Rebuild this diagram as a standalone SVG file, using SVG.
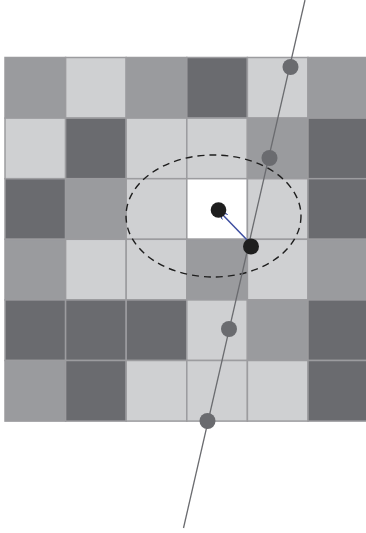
<svg xmlns="http://www.w3.org/2000/svg" width="366" height="533" viewBox="0 0 366 533">
<defs>
<style>
.c{stroke:#9c9c9f;stroke-width:1.5}
.d{fill:#6a6b6f}.m{fill:#9a9b9e}.l{fill:#cfd0d2}.w{fill:#ffffff}
.gd{fill:#6a6b6f}
.bd{fill:#1e1e1e}
</style>
<marker id="ah" viewBox="0 0 10 10" refX="9" refY="5" markerWidth="8" markerHeight="8" orient="auto" markerUnits="userSpaceOnUse">
<path d="M0,0 L9,5 L0,10" fill="none" stroke="#3d4ea0" stroke-width="1.4"/>
</marker>
</defs>
<rect width="366" height="533" fill="#ffffff"/>
<g id="grid">
<rect class="c m" x="5" y="57.5" width="60.6" height="60.6"/>
<rect class="c l" x="65.6" y="57.5" width="60.6" height="60.6"/>
<rect class="c m" x="126.2" y="57.5" width="60.6" height="60.6"/>
<rect class="c d" x="186.8" y="57.5" width="60.6" height="60.6"/>
<rect class="c l" x="247.4" y="57.5" width="60.6" height="60.6"/>
<rect class="c m" x="308" y="57.5" width="60.6" height="60.6"/>

<rect class="c l" x="5" y="118.1" width="60.6" height="60.6"/>
<rect class="c d" x="65.6" y="118.1" width="60.6" height="60.6"/>
<rect class="c l" x="126.2" y="118.1" width="60.6" height="60.6"/>
<rect class="c l" x="186.8" y="118.1" width="60.6" height="60.6"/>
<rect class="c m" x="247.4" y="118.1" width="60.6" height="60.6"/>
<rect class="c d" x="308" y="118.1" width="60.6" height="60.6"/>

<rect class="c d" x="5" y="178.7" width="60.6" height="60.6"/>
<rect class="c m" x="65.6" y="178.7" width="60.6" height="60.6"/>
<rect class="c l" x="126.2" y="178.7" width="60.6" height="60.6"/>
<rect class="c w" x="186.8" y="178.7" width="60.6" height="60.6"/>
<rect class="c l" x="247.4" y="178.7" width="60.6" height="60.6"/>
<rect class="c d" x="308" y="178.7" width="60.6" height="60.6"/>

<rect class="c m" x="5" y="239.3" width="60.6" height="60.6"/>
<rect class="c l" x="65.6" y="239.3" width="60.6" height="60.6"/>
<rect class="c l" x="126.2" y="239.3" width="60.6" height="60.6"/>
<rect class="c m" x="186.8" y="239.3" width="60.6" height="60.6"/>
<rect class="c l" x="247.4" y="239.3" width="60.6" height="60.6"/>
<rect class="c m" x="308" y="239.3" width="60.6" height="60.6"/>

<rect class="c d" x="5" y="299.9" width="60.6" height="60.6"/>
<rect class="c d" x="65.6" y="299.9" width="60.6" height="60.6"/>
<rect class="c d" x="126.2" y="299.9" width="60.6" height="60.6"/>
<rect class="c l" x="186.8" y="299.9" width="60.6" height="60.6"/>
<rect class="c m" x="247.4" y="299.9" width="60.6" height="60.6"/>
<rect class="c d" x="308" y="299.9" width="60.6" height="60.6"/>

<rect class="c m" x="5" y="360.5" width="60.6" height="60.6"/>
<rect class="c d" x="65.6" y="360.5" width="60.6" height="60.6"/>
<rect class="c l" x="126.2" y="360.5" width="60.6" height="60.6"/>
<rect class="c l" x="186.8" y="360.5" width="60.6" height="60.6"/>
<rect class="c l" x="247.4" y="360.5" width="60.6" height="60.6"/>
<rect class="c d" x="308" y="360.5" width="60.6" height="60.6"/>
</g>
<g id="ellipse">
<ellipse cx="213.5" cy="216" rx="87.5" ry="61" fill="none" stroke="#1e1e1e" stroke-width="1.4" stroke-dasharray="7,5"/>
</g>
<g id="connectors">
<line x1="305" y1="0" x2="183.5" y2="528" stroke="#6a6b6f" stroke-width="1.3"/>
<line x1="249" y1="242" x2="220" y2="212" stroke="#3d4ea0" stroke-width="1.5" marker-end="url(#ah)"/>
</g>
<g id="p1"><circle class="gd" cx="290.5" cy="67" r="8"/></g>
<g id="p2"><circle class="gd" cx="269.5" cy="158" r="8"/></g>
<g id="p3"><circle class="gd" cx="229" cy="329" r="8"/></g>
<g id="p4"><circle class="gd" cx="207.5" cy="421" r="8"/></g>
<g id="q1"><circle class="bd" cx="218.5" cy="210" r="7.8"/></g>
<g id="q2"><circle class="bd" cx="251" cy="246.5" r="8"/></g>
</svg>
